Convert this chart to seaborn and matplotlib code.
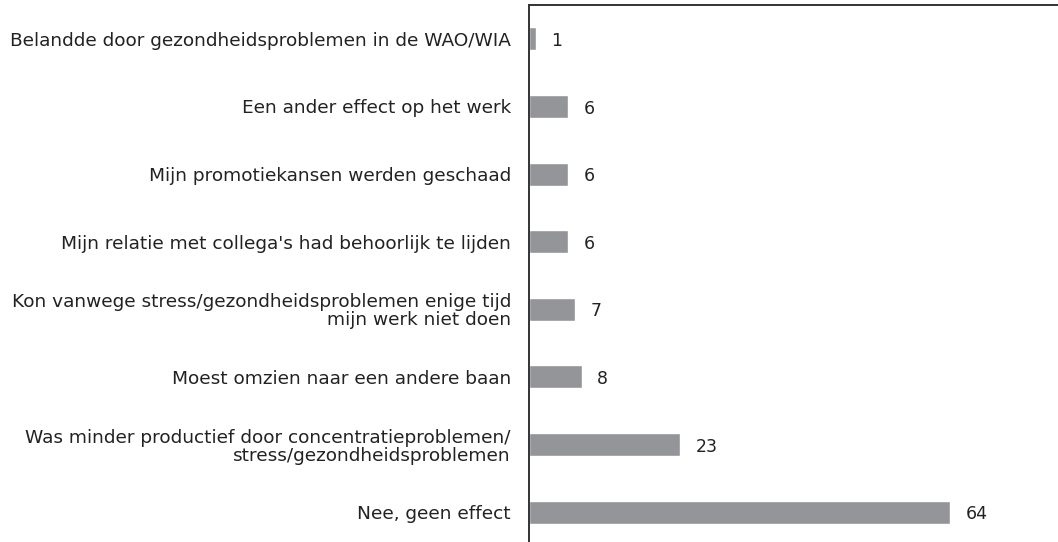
import matplotlib
matplotlib.use("Agg")
import matplotlib.pyplot as plt
import seaborn as sns
import pandas as pd

categories = [
    "Belandde door gezondheidsproblemen in de WAO/WIA",
    "Een ander effect op het werk",
    "Mijn promotiekansen werden geschaad",
    "Mijn relatie met collega's had behoorlijk te lijden",
    "Kon vanwege stress/gezondheidsproblemen enige tijd\nmijn werk niet doen",
    "Moest omzien naar een andere baan",
    "Was minder productief door concentratieproblemen/\nstress/gezondheidsproblemen",
    "Nee, geen effect",
]
values = [1, 6, 6, 6, 7, 8, 23, 64]

df = pd.DataFrame({"categorie": categories, "waarde": values})

sns.set_theme(style="white")
plt.rcParams["font.family"] = ["DejaVu Sans"]

fig = plt.figure(figsize=(10.58, 5.42), dpi=100)
ax = fig.add_axes([529 / 1058, -4 / 542, 1 - 529 / 1058, 541 / 542])

sns.barplot(data=df, x="waarde", y="categorie", color="#939598",
            saturation=1, width=0.34, ax=ax, orient="h")

ax.set_xlim(0, 80.4)
ax.set_ylim(7.5, -0.5)
ax.set_xlabel("")
ax.set_ylabel("")
ax.set_xticks([])
ax.tick_params(axis="y", length=0, pad=13, labelsize=13.3, labelcolor="#222222")
for lbl in ax.get_yticklabels():
    lbl.set_horizontalalignment("right")
    lbl.set_linespacing(1.0)

for side in ["bottom", "right"]:
    ax.spines[side].set_visible(False)
for side in ["left", "top"]:
    ax.spines[side].set_color("#333333")
    ax.spines[side].set_linewidth(1.4)

for i, v in enumerate(values):
    ax.annotate(str(v), xy=(v, i), xytext=(11, -1.5), textcoords="offset points",
                va="center", ha="left", fontsize=12.5, color="#222222")

fig.savefig("out.png", dpi=100)
